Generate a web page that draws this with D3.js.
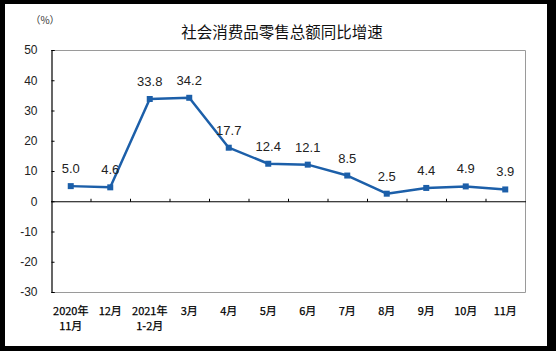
<!DOCTYPE html>
<html>
<head>
<meta charset="utf-8">
<script src="https://cdn.jsdelivr.net/npm/d3@7"></script>
<style>
  html, body { margin: 0; padding: 0; background: #000; }
  #container { width: 556px; height: 351px; }
</style>
</head>
<body>
<div id="container"></div>
<script>
var width = 556,
    height = 351;

// data
var months = ["2020年\n11月", "12月", "2021年\n1-2月", "3月", "4月", "5月", "6月", "7月", "8月", "9月", "10月", "11月"];
var growth = [5.0, 4.6, 33.8, 34.2, 17.7, 12.4, 12.1, 8.5, 2.5, 4.4, 4.9, 3.9];
var yTicks = [50, 40, 30, 20, 10, 0, -10, -20, -30];
var title = "社会消费品零售总额同比增速";
var unit = "（%）";

var lineColor = "#1c5fa9";
var cjk = "'Noto Sans CJK SC', sans-serif";
var num = "'Liberation Sans', Arial, sans-serif";

var svg = d3.select("#container").append("svg")
    .attr("width", width)
    .attr("height", height);

// black frame, white panel
svg.append("rect")
    .attr("x", 0).attr("y", 0)
    .attr("width", width).attr("height", height)
    .attr("fill", "#000");
svg.append("rect")
    .attr("x", 5).attr("y", 4)
    .attr("width", 542).attr("height", 342)
    .attr("fill", "#fff");

var pL = 51, pR = 525, pT = 50, pB = 292;

var x = d3.scaleBand()
    .domain(months)
    .range([pL, pR]);

var y = d3.scaleLinear()
    .domain([-30, 50])
    .range([pB, pT]);

// plot frame (grey top/right/bottom)
svg.append("path")
    .attr("d", "M" + pL + "," + (pT + 0.5) + "H" + (pR + 0.5) + "V" + (pB + 0.5) + "H" + pL)
    .attr("fill", "none")
    .attr("stroke", "#9a9a9a")
    .attr("stroke-width", 1);

// y axis
var yAxis = d3.axisLeft(y)
    .tickValues(yTicks)
    .tickSize(-3)
    .tickPadding(14)
    .tickFormat(d => String(d));
var ya = svg.append("g")
    .attr("transform", "translate(" + (pL + 0.5) + ",0)")
    .call(yAxis);
ya.select(".domain").attr("stroke", "#000").attr("stroke-width", 1.2);
ya.selectAll(".tick line").attr("stroke", "#000");
ya.selectAll("text")
    .attr("font-family", num)
    .attr("font-size", 12)
    .attr("fill", "#222");

// zero line with category ticks
var za = svg.append("g")
    .attr("transform", "translate(0," + (y(0) + 0.5) + ")");
za.append("line")
    .attr("x1", pL).attr("x2", pR + 1)
    .attr("stroke", "#000").attr("stroke-width", 1.2);
za.selectAll(".ctick")
    .data(months.slice(1))
    .enter().append("line")
    .attr("class", "ctick")
    .attr("x1", d => x(d) + 0.5)
    .attr("x2", d => x(d) + 0.5)
    .attr("y1", 0).attr("y2", -3)
    .attr("stroke", "#000");

// x labels
var xl = svg.selectAll(".xlab")
    .data(months)
    .enter().append("text")
    .attr("class", "xlab")
    .attr("text-anchor", "middle")
    .attr("font-family", cjk)
    .attr("font-size", 11)
    .attr("fill", "#000")
    .attr("stroke", "#000")
    .attr("stroke-width", 0.25);
xl.each(function (d) {
    var parts = d.split("\n");
    var t = d3.select(this);
    parts.forEach(function (p, i) {
        t.append("tspan")
            .attr("x", x(d) + x.bandwidth() / 2)
            .attr("y", 315 + i * 15)
            .text(p);
    });
});

// line
var line = d3.line()
    .x((d, i) => x(months[i]) + x.bandwidth() / 2)
    .y(d => y(d));

svg.append("path")
    .datum(growth)
    .attr("d", line)
    .attr("fill", "none")
    .attr("stroke", lineColor)
    .attr("stroke-width", 2.5)
    .attr("stroke-linejoin", "round");

svg.selectAll(".pt")
    .data(growth)
    .enter().append("rect")
    .attr("class", "pt")
    .attr("x", (d, i) => x(months[i]) + x.bandwidth() / 2 - 3)
    .attr("y", d => y(d) - 3)
    .attr("width", 6)
    .attr("height", 6)
    .attr("fill", lineColor);

// value labels
svg.selectAll(".val")
    .data(growth)
    .enter().append("text")
    .attr("class", "val")
    .attr("x", (d, i) => x(months[i]) + x.bandwidth() / 2)
    .attr("y", d => y(d) - 13)
    .attr("text-anchor", "middle")
    .attr("font-family", num)
    .attr("font-size", 13)
    .attr("fill", "#222")
    .text(d => d.toFixed(1));

// title and unit
svg.append("text")
    .attr("x", 282)
    .attr("y", 38)
    .attr("text-anchor", "middle")
    .attr("font-family", cjk)
    .attr("font-size", 15.5)
    .attr("fill", "#111")
    .text(title);

svg.append("text")
    .attr("x", 45)
    .attr("y", 24)
    .attr("text-anchor", "middle")
    .attr("font-family", cjk)
    .attr("font-size", 10)
    .attr("fill", "#333")
    .text(unit);
</script>
</body>
</html>
